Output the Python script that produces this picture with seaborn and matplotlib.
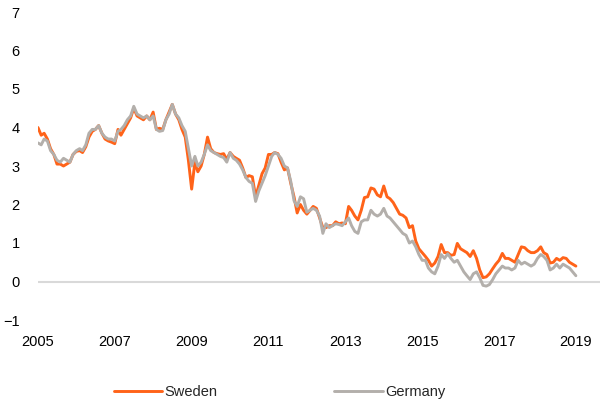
import numpy as np
import pandas as pd
import matplotlib
matplotlib.use("Agg")
import matplotlib.pyplot as plt
import seaborn as sns

# Monthly 10-year government bond yields, %, Jan 2005 - Jan 2019
start_month = "2005-01"
sweden = [
    4.0, 3.8, 3.85, 3.7, 3.45, 3.3, 3.05, 3.05, 3.0, 3.05, 3.1, 3.3,
    3.38, 3.4, 3.35, 3.5, 3.75, 3.9, 3.95, 4.05, 3.85, 3.7, 3.65, 3.62,
    3.58, 3.95, 3.8, 3.95, 4.1, 4.25, 4.5, 4.3, 4.25, 4.2, 4.3, 4.2,
    4.4, 3.95, 3.98, 3.95, 4.2, 4.4, 4.6, 4.35, 4.2, 3.95, 3.75, 3.15,
    2.4, 3.1, 2.85, 3.0, 3.3, 3.75, 3.45, 3.35, 3.32, 3.3, 3.32, 3.17,
    3.35, 3.25, 3.2, 3.15, 2.95, 2.7, 2.75, 2.72, 2.2, 2.5, 2.8, 2.95,
    3.3, 3.3, 3.35, 3.32, 3.1, 2.9, 2.95, 2.55, 2.2, 1.78, 2.0, 1.85,
    1.75, 1.85, 1.95, 1.9, 1.65, 1.4, 1.4, 1.45, 1.45, 1.55, 1.5, 1.52,
    1.5, 1.95, 1.85, 1.7, 1.6, 1.85, 2.18, 2.2, 2.43, 2.4, 2.25, 2.2,
    2.48, 2.2, 2.15, 2.05, 1.9, 1.75, 1.72, 1.65, 1.4, 1.45, 1.05, 0.85,
    0.75, 0.65, 0.55, 0.4, 0.48, 0.65, 0.96, 0.75, 0.75, 0.68, 0.7, 0.99,
    0.85, 0.8, 0.75, 0.65, 0.8, 0.6, 0.3, 0.1, 0.12, 0.2, 0.33, 0.45,
    0.55, 0.73, 0.6, 0.6, 0.55, 0.5, 0.7, 0.9, 0.88, 0.8, 0.75, 0.75,
    0.8, 0.9, 0.75, 0.7, 0.48, 0.5, 0.6, 0.55, 0.62, 0.6, 0.5, 0.45,
    0.4,
]
germany = [
    3.6, 3.55, 3.7, 3.65, 3.4, 3.3, 3.15, 3.1, 3.2, 3.15, 3.1, 3.3,
    3.4, 3.45, 3.4, 3.55, 3.85, 3.95, 3.95, 4.05, 3.85, 3.75, 3.7, 3.7,
    3.65, 3.9, 3.95, 4.05, 4.2, 4.3, 4.55, 4.35, 4.3, 4.25, 4.3, 4.2,
    4.3, 3.95, 3.9, 3.92, 4.2, 4.35, 4.6, 4.35, 4.25, 4.05, 3.9, 3.45,
    3.0, 3.25, 3.0, 3.1, 3.3, 3.55, 3.4, 3.35, 3.3, 3.25, 3.22, 3.1,
    3.35, 3.2, 3.15, 3.05, 2.9, 2.7, 2.6, 2.55, 2.08, 2.35, 2.55, 2.75,
    3.0, 3.25, 3.35, 3.3, 3.2, 3.0, 2.95, 2.6, 2.1, 1.95, 2.2, 2.15,
    1.8, 1.85, 1.9, 1.85, 1.7, 1.25, 1.5, 1.4, 1.45, 1.5, 1.48, 1.45,
    1.55, 1.65, 1.45, 1.3, 1.25, 1.55, 1.6, 1.6, 1.85, 1.75, 1.7, 1.75,
    1.9, 1.7, 1.65, 1.55, 1.45, 1.35, 1.25, 1.2, 1.0, 1.05, 0.9, 0.7,
    0.55, 0.55, 0.35, 0.25, 0.2, 0.4, 0.7, 0.6, 0.72, 0.6, 0.5, 0.55,
    0.4, 0.25, 0.15, 0.05, 0.2, 0.25, 0.1, -0.1, -0.12, -0.08, 0.05, 0.2,
    0.3, 0.4, 0.35, 0.35, 0.3, 0.35, 0.55, 0.45, 0.5, 0.45, 0.4, 0.45,
    0.6, 0.7, 0.65, 0.55, 0.3, 0.35, 0.45, 0.35, 0.45, 0.4, 0.35, 0.25,
    0.15,
]
series_names = ["Sweden", "Germany"]
series_colors = ["#FF6319", "#B3AFAB"]
y_ticks = [-1, 0, 1, 2, 3, 4, 5, 6, 7]
x_tick_years = [2005, 2007, 2009, 2011, 2013, 2015, 2017, 2019]

dates = pd.date_range(start_month, periods=len(sweden), freq="MS")
df = pd.concat([
    pd.DataFrame({"date": dates, "value": sweden, "series": series_names[0]}),
    pd.DataFrame({"date": dates, "value": germany, "series": series_names[1]}),
])

sns.set_style("white")
plt.rcParams["font.family"] = ["Liberation Sans", "DejaVu Sans"]

fig = plt.figure(figsize=(6.02, 4.0), dpi=100)
ax = fig.add_axes([0.063, 0.2, 0.934, 0.77])

ax.axhline(0, color="#D9D9D9", lw=1.5, zorder=1)
sns.lineplot(data=df, x="date", y="value", hue="series",
             hue_order=series_names, palette=series_colors,
             linewidth=2.1, ax=ax, zorder=3)

ax.set_ylim(-1, 7)
ax.set_yticks(y_ticks)
ax.set_xlim(pd.Timestamp("2005-01-01"), pd.Timestamp("2019-08-20"))
ax.set_xticks([pd.Timestamp(f"{y}-01-01") for y in x_tick_years])
ax.set_xticklabels([str(y) for y in x_tick_years])
ax.tick_params(axis="both", length=0, labelsize=10.5, colors="#000000")
ax.tick_params(axis="y", pad=13)
ax.tick_params(axis="x", pad=11)
ax.set_xlabel("")
ax.set_ylabel("")
for s in ax.spines.values():
    s.set_visible(False)

ax.legend(loc="center", bbox_to_anchor=(0.43, -0.235),
          bbox_transform=ax.transAxes, ncol=2, frameon=False, fontsize=10.5,
          handlelength=3.3, columnspacing=8.0, handletextpad=0.2)

fig.savefig("out.png", dpi=100)
